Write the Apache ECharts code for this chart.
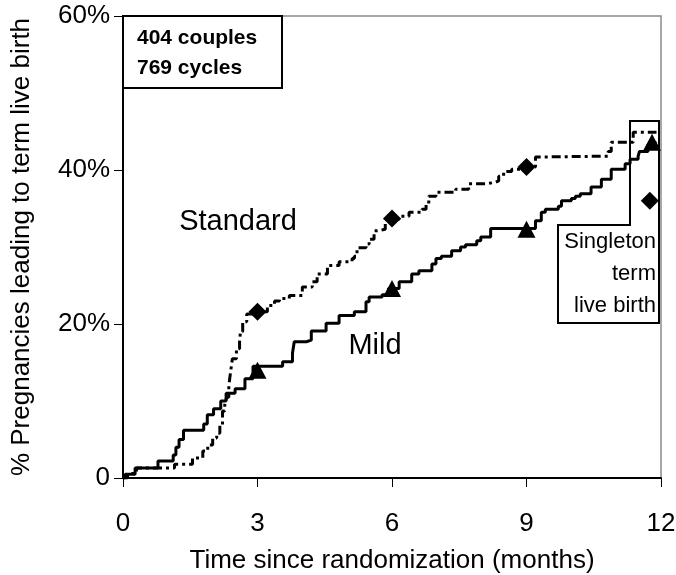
<!DOCTYPE html>
<html><head><meta charset="utf-8">
<script src="https://cdn.jsdelivr.net/npm/echarts@6/dist/echarts.min.js"></script>
<style>html,body{margin:0;padding:0;background:#fff}#c{width:676px;height:575px}</style>
</head><body><div id="c"></div>
<script>
// X ticks (months) and Y ticks (%)
var xTicks = [0, 3, 6, 9, 12];
var yTicks = [0, 20, 40, 60];

// Kaplan-Meier style cumulative curves: [month, cumulative % after event]
var mildCurve = [[0,0],[0.05,0.5],[0.27,1.3],[0.78,2.2],[1.12,3.0],[1.18,4.0],[1.25,5.0],[1.35,6.2],[1.8,7.0],[1.88,8.2],[2.02,9.0],[2.18,10.0],[2.3,11.0],[2.5,11.6],[2.72,12.9],[2.9,14.5],[3.56,15.1],[3.78,16.2],[3.82,17.7],[4.09,17.9],[4.2,19.1],[4.53,20.1],[4.82,21.1],[5.16,21.6],[5.42,22.9],[5.49,23.5],[5.78,23.8],[5.92,24.6],[6.16,25.5],[6.44,26.5],[6.6,26.9],[6.89,27.8],[6.98,28.5],[7.1,28.8],[7.33,29.5],[7.53,30.0],[7.64,30.3],[7.89,30.8],[7.98,31.3],[8.2,32.4],[9.2,33.4],[9.33,34.5],[9.42,34.9],[9.71,35.3],[9.78,36.0],[10.0,36.3],[10.09,36.6],[10.2,36.9],[10.44,37.8],[10.67,38.8],[10.89,40.1],[11.2,40.8],[11.31,41.4],[11.49,41.8],[11.52,42.4],[11.71,43.3],[11.87,43.7]];
var standardCurve = [[0,0],[0.1,0.6],[0.3,1.3],[1.15,1.8],[1.55,2.6],[1.78,3.5],[1.89,4.3],[2.0,5.2],[2.09,5.8],[2.16,6.9],[2.22,8.7],[2.27,9.5],[2.31,10.5],[2.36,12.0],[2.4,13.8],[2.44,15.5],[2.53,16.8],[2.6,17.7],[2.62,19.0],[2.67,20.3],[2.76,21.3],[2.95,21.6],[3.22,22.4],[3.38,23.0],[3.49,23.3],[3.71,23.7],[4.0,24.8],[4.22,25.5],[4.33,26.5],[4.56,27.6],[4.82,28.1],[5.11,28.5],[5.16,28.8],[5.22,29.9],[5.42,30.4],[5.49,31.0],[5.6,32.1],[5.67,32.3],[5.85,33.6],[6.16,34.0],[6.38,34.5],[6.67,34.9],[6.76,35.6],[6.82,36.6],[6.98,37.1],[7.42,37.5],[7.71,38.2],[8.09,38.4],[8.31,38.6],[8.38,39.2],[8.49,39.8],[8.67,40.1],[8.9,40.4],[9.2,41.7],[9.49,41.8],[10.82,42.4],[10.89,43.6],[11.38,44.9],[11.9,44.9]];

// Markers
var mildMarkers = [[3,14.0],[6,24.6],[9,32.3],[11.8,43.6]];
var standardMarkers = [[3,21.6],[6,33.7],[9,40.4],[11.75,36.0]];

var FONT = "'Liberation Sans', Arial, sans-serif";
var chart = echarts.init(document.getElementById('c'), null, {renderer: 'canvas'});
chart.setOption({
  animation: false,
  backgroundColor: '#fff',
  grid: {left: 123, right: 15, top: 16, bottom: 97, outerBoundsMode: 'none', containLabel: false,
         show: true, borderColor: '#8a8a8a', borderWidth: 1.5, backgroundColor: 'transparent'},
  xAxis: {
    type: 'value', min: xTicks[0], max: xTicks[xTicks.length-1], interval: 3,
    name: 'Time since randomization (months)', nameLocation: 'middle', nameGap: 70,
    nameTextStyle: {fontFamily: FONT, fontSize: 26, color: '#000'},
    axisLine: {lineStyle: {color: '#000', width: 2}},
    axisTick: {show: true, inside: false, length: 9, lineStyle: {color: '#000', width: 1}},
    axisLabel: {fontFamily: FONT, fontSize: 26, color: '#000', margin: 33},
    splitLine: {show: false}
  },
  yAxis: {
    type: 'value', min: yTicks[0], max: yTicks[yTicks.length-1], interval: 20,
    name: '% Pregnancies leading to term live birth', nameLocation: 'middle', nameGap: 88,
    nameTextStyle: {fontFamily: FONT, fontSize: 26, color: '#000'},
    axisLine: {show: true, lineStyle: {color: '#000', width: 2}},
    axisTick: {show: true, inside: false, length: 9, lineStyle: {color: '#000', width: 1}},
    axisLabel: {fontFamily: FONT, fontSize: 26, color: '#000', margin: 13, padding: [6, 0, 0, 0],
      formatter: function (v) { return v === 0 ? '0' : v + '%'; }},
    splitLine: {show: false}
  },
  series: [
    {type: 'line', name: 'Mild', data: mildCurve, step: 'end', symbol: 'none',
     lineStyle: {color: '#000', width: 3}, z: 3},
    {type: 'line', name: 'Standard', data: standardCurve, step: 'end', symbol: 'none',
     lineStyle: {color: '#000', width: 3, type: [9, 4, 3, 4]}, z: 3},
    {type: 'scatter', data: mildMarkers, symbol: 'triangle', symbolSize: [18, 17],
     itemStyle: {color: '#000', opacity: 1}, z: 5},
    {type: 'scatter', data: standardMarkers, symbol: 'diamond', symbolSize: [18, 18],
     itemStyle: {color: '#000', opacity: 1}, z: 5}
  ],
  graphic: [
    {type: 'rect', z: 10, shape: {x: 123, y: 16, width: 159, height: 72},
     style: {fill: '#fff', stroke: '#000', lineWidth: 2}},
    {type: 'text', z: 11, x: 137, y: 38,
     style: {text: '404 couples', fontFamily: FONT, fontSize: 21, fontWeight: 'bold', fill: '#000', align: 'left', verticalAlign: 'middle'}},
    {type: 'text', z: 11, x: 137, y: 68,
     style: {text: '769 cycles', fontFamily: FONT, fontSize: 21, fontWeight: 'bold', fill: '#000', align: 'left', verticalAlign: 'middle'}},
    {type: 'text', z: 11, x: 238, y: 222,
     style: {text: 'Standard', fontFamily: FONT, fontSize: 29, fill: '#000', align: 'center', verticalAlign: 'middle'}},
    {type: 'text', z: 11, x: 375, y: 346,
     style: {text: 'Mild', fontFamily: FONT, fontSize: 29, fill: '#000', align: 'center', verticalAlign: 'middle'}},
    {type: 'polygon', z: 10,
     shape: {points: [[630,121],[659,121],[659,323],[558,323],[558,225],[630,225]]},
     style: {fill: null, stroke: '#000', lineWidth: 2}},
    {type: 'text', z: 11, x: 656, y: 242,
     style: {text: 'Singleton', fontFamily: FONT, fontSize: 22, fill: '#000', align: 'right', verticalAlign: 'middle'}},
    {type: 'text', z: 11, x: 656, y: 274,
     style: {text: 'term', fontFamily: FONT, fontSize: 22, fill: '#000', align: 'right', verticalAlign: 'middle'}},
    {type: 'text', z: 11, x: 656, y: 306,
     style: {text: 'live birth', fontFamily: FONT, fontSize: 22, fill: '#000', align: 'right', verticalAlign: 'middle'}}
  ]
});
</script></body></html>
